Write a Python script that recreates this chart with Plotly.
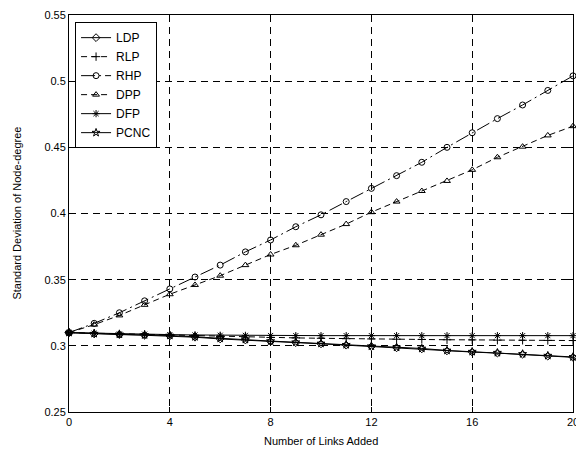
import plotly.graph_objects as go

links = list(range(21))
ldp = [0.310, 0.309, 0.3085, 0.308, 0.3075, 0.3065, 0.3052, 0.3044, 0.3033, 0.3024, 0.3015,
       0.3005, 0.2994, 0.2985, 0.2977, 0.2962, 0.2953, 0.2945, 0.2936, 0.2922, 0.2913]
rlp = [0.310, 0.3095, 0.309, 0.3085, 0.308, 0.3075, 0.307, 0.3066, 0.3063, 0.306, 0.3057,
       0.3054, 0.3052, 0.305, 0.3048, 0.3046, 0.3045, 0.3043, 0.3042, 0.3041, 0.304]
rhp = [0.310, 0.317, 0.325, 0.334, 0.343, 0.352, 0.361, 0.371, 0.380, 0.390, 0.399,
       0.409, 0.419, 0.4286, 0.4387, 0.450, 0.461, 0.4717, 0.482, 0.493, 0.504]
dpp = [0.310, 0.316, 0.323, 0.331, 0.339, 0.346, 0.353, 0.361, 0.369, 0.376, 0.384,
       0.392, 0.401, 0.409, 0.417, 0.4246, 0.433, 0.4425, 0.4505, 0.459, 0.466]
dfp = [0.310, 0.3095, 0.309, 0.3088, 0.3085, 0.3082, 0.308, 0.3079, 0.3078, 0.3077, 0.3077,
       0.3077, 0.3077, 0.3077, 0.3077, 0.3077, 0.3077, 0.3077, 0.3077, 0.3077, 0.3077]
pcnc = [0.310, 0.3092, 0.3087, 0.3082, 0.3078, 0.3068, 0.3056, 0.3047, 0.3036, 0.3027, 0.3018,
        0.3008, 0.2997, 0.2988, 0.2980, 0.2965, 0.2956, 0.2948, 0.2939, 0.2926, 0.2916]

x_ticks = [0, 4, 8, 12, 16, 20]
y_ticks = [0.25, 0.3, 0.35, 0.4, 0.45, 0.5, 0.55]
y_tick_labels = ["0.25", "0.3", "0.35", "0.4", "0.45", "0.5", "0.55"]

series = [
    ("LDP", ldp, "solid", "diamond-open"),
    ("RLP", rlp, "6px,4px", "cross-thin-open"),
    ("RHP", rhp, "14px,4px,2px,4px", "circle-open"),
    ("DPP", dpp, "6px,4px", "triangle-up-open"),
    ("DFP", dfp, "solid", "asterisk-open"),
    ("PCNC", pcnc, "solid", "star-open"),
]

fig = go.Figure()
for name, vals, dash, sym in series:
    fig.add_trace(go.Scatter(
        x=links, y=vals, name=name, mode="lines+markers",
        line=dict(color="black", width=1, dash=dash),
        marker=dict(symbol=sym, size=6, color="black", line=dict(color="black", width=1)),
        cliponaxis=False,
    ))

axis_common = dict(
    showline=True, linecolor="black", linewidth=1, mirror="ticks",
    ticks="inside", ticklen=5, tickcolor="black",
    showgrid=True, gridcolor="black", gridwidth=0.7, griddash="7px,5px",
    zeroline=False, tickfont=dict(size=11, color="black"),
    automargin=False, ticklabeloverflow="allow",
)

fig.update_xaxes(range=[0, 20], tickvals=x_ticks, ticktext=[str(v) for v in x_ticks], **axis_common)
fig.update_yaxes(range=[0.25, 0.55], tickvals=y_ticks, ticktext=y_tick_labels, **axis_common)

fig.add_annotation(text="Number of Links Added", xref="paper", yref="paper",
                   x=0.5, y=-0.073, xanchor="center", yanchor="middle", showarrow=False,
                   font=dict(size=11, color="black"))
fig.add_annotation(text="Standard Deviation of Node-degree", xref="paper", yref="paper",
                   x=-0.105, y=0.5, xanchor="center", yanchor="middle", showarrow=False,
                   textangle=-90, font=dict(size=11, color="black"))

fig.update_layout(
    width=576, height=453,
    margin=dict(l=69, r=3, t=15, b=41),
    paper_bgcolor="white", plot_bgcolor="white",
    font=dict(family="Arial, Liberation Sans, sans-serif", size=11, color="black"),
    legend=dict(x=0.012, y=0.982, xanchor="left", yanchor="top",
                bgcolor="white", bordercolor="black", borderwidth=1,
                font=dict(size=12), itemwidth=30, tracegroupgap=0),
    showlegend=True,
)

fig.write_html("out.html", config={"displayModeBar": False},
               post_script="document.body.style.margin='0';document.body.style.overflow='hidden';")
